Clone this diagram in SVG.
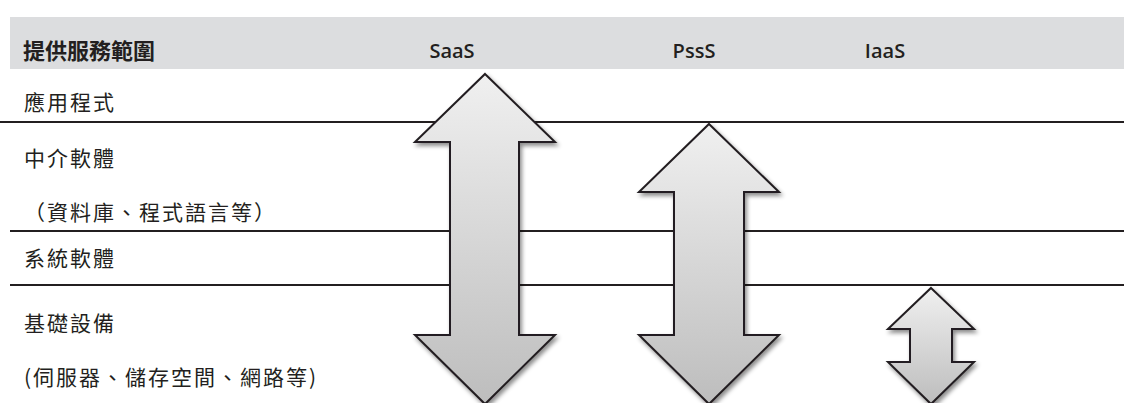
<svg xmlns="http://www.w3.org/2000/svg" width="1124" height="403" viewBox="0 0 1124 403">
<style>
.cjk{font-family:"Noto Sans CJK TC","Noto Sans CJK SC",sans-serif;font-size:21px;fill:#231f20;letter-spacing:2px}
.hd{font-family:"Noto Sans CJK TC",sans-serif;font-size:22px;font-weight:700;fill:#231f20}
.lat{font-family:"Open Sans","Noto Sans",sans-serif;font-size:20px;font-weight:600;fill:#231f20}
.rule{stroke:#231f20;stroke-width:2.2}
.arrow{fill:url(#g);stroke:#231f20;stroke-width:2;stroke-linejoin:miter;filter:url(#sh)}
</style>
<defs>
<linearGradient id="g" x1="0" y1="0" x2="0" y2="1">
<stop offset="0" stop-color="#f0f0f0"/>
<stop offset="1" stop-color="#bdbdbd"/>
</linearGradient>
<filter id="sh" x="-20%" y="-10%" width="140%" height="120%">
<feDropShadow dx="2" dy="3" stdDeviation="2" flood-color="#000" flood-opacity="0.45"/>
</filter>
</defs>
<g id="header">
<rect x="10" y="17" width="1114" height="52" fill="#dcdddf"/>
<text class="hd" x="23" y="59">提供服務範圍</text>
<text class="lat" x="452" y="58" text-anchor="middle">SaaS</text>
<text class="lat" x="694" y="58" text-anchor="middle">PssS</text>
<text class="lat" x="885" y="58" text-anchor="middle">IaaS</text>
</g>
<g id="rules">
<line class="rule" x1="0" y1="122" x2="1124" y2="122"/>
<line class="rule" x1="10" y1="231" x2="1124" y2="231"/>
<line class="rule" x1="10" y1="285" x2="1124" y2="285"/>
</g>
<g id="labels">
<text class="cjk" x="24" y="110">應用程式</text>
<text class="cjk" x="24" y="166">中介軟體</text>
<text class="cjk" x="24" y="220">（資料庫、程式語言等）</text>
<text class="cjk" x="24" y="266">系統軟體</text>
<text class="cjk" x="24" y="331">基礎設備</text>
<text class="cjk" x="24" y="385">(伺服器、儲存空間、網路等)</text>
</g>
<g id="saas-arrow">
<path class="arrow" d="M485,74 L555,142 L519,142 L519,335 L555,335 L485,404 L415,335 L450,335 L450,142 L415,142 Z"/>
</g>
<g id="pss-arrow">
<path class="arrow" d="M709,124 L779,192 L744,192 L744,335 L779,335 L709,404 L639,335 L674,335 L674,192 L639,192 Z"/>
</g>
<g id="iaas-arrow">
<path class="arrow" d="M931,288 L974,329 L952,329 L952,362 L974,362 L931,404 L888,362 L910,362 L910,329 L888,329 Z"/>
</g>
</svg>
